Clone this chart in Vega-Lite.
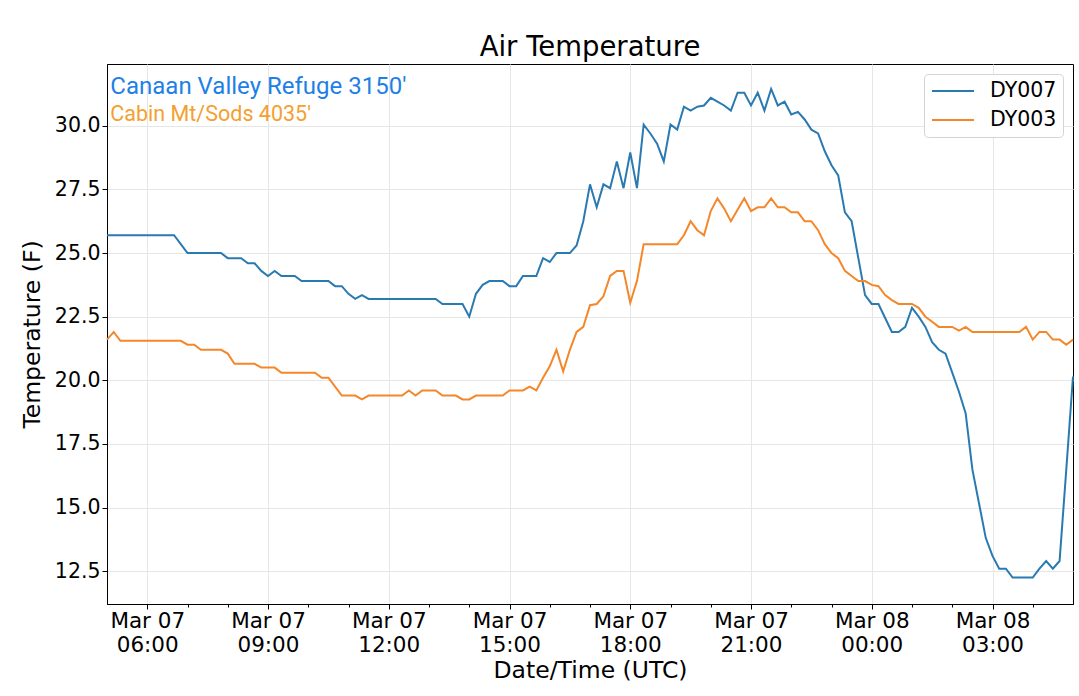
{
  "$schema": "https://vega.github.io/schema/vega-lite/v6.json",
  "description": "Air temperature at DY007 and DY003, 10-minute readings",
  "width": 966,
  "height": 540,
  "autosize": {"type": "none"},
  "padding": {"left": 107, "top": 64, "right": 6, "bottom": 92},
  "background": "white",
  "title": {
    "text": "Air Temperature",
    "font": "DejaVu Sans",
    "fontSize": 27.5,
    "fontWeight": "normal",
    "color": "black",
    "offset": 3
  },
  "datasets": {
    "temps": [
      {"t": "2018-03-07T05:00:00Z", "DY007": 25.7, "DY003": 21.6},
      {"t": "2018-03-07T05:10:00Z", "DY007": 25.7, "DY003": 21.9},
      {"t": "2018-03-07T05:20:00Z", "DY007": 25.7, "DY003": 21.55},
      {"t": "2018-03-07T05:30:00Z", "DY007": 25.7, "DY003": 21.55},
      {"t": "2018-03-07T05:40:00Z", "DY007": 25.7, "DY003": 21.55},
      {"t": "2018-03-07T05:50:00Z", "DY007": 25.7, "DY003": 21.55},
      {"t": "2018-03-07T06:00:00Z", "DY007": 25.7, "DY003": 21.55},
      {"t": "2018-03-07T06:10:00Z", "DY007": 25.7, "DY003": 21.55},
      {"t": "2018-03-07T06:20:00Z", "DY007": 25.7, "DY003": 21.55},
      {"t": "2018-03-07T06:30:00Z", "DY007": 25.7, "DY003": 21.55},
      {"t": "2018-03-07T06:40:00Z", "DY007": 25.7, "DY003": 21.55},
      {"t": "2018-03-07T06:50:00Z", "DY007": 25.35, "DY003": 21.55},
      {"t": "2018-03-07T07:00:00Z", "DY007": 25.0, "DY003": 21.4},
      {"t": "2018-03-07T07:10:00Z", "DY007": 25.0, "DY003": 21.4},
      {"t": "2018-03-07T07:20:00Z", "DY007": 25.0, "DY003": 21.2},
      {"t": "2018-03-07T07:30:00Z", "DY007": 25.0, "DY003": 21.2},
      {"t": "2018-03-07T07:40:00Z", "DY007": 25.0, "DY003": 21.2},
      {"t": "2018-03-07T07:50:00Z", "DY007": 25.0, "DY003": 21.2},
      {"t": "2018-03-07T08:00:00Z", "DY007": 24.8, "DY003": 21.05},
      {"t": "2018-03-07T08:10:00Z", "DY007": 24.8, "DY003": 20.65},
      {"t": "2018-03-07T08:20:00Z", "DY007": 24.8, "DY003": 20.65},
      {"t": "2018-03-07T08:30:00Z", "DY007": 24.6, "DY003": 20.65},
      {"t": "2018-03-07T08:40:00Z", "DY007": 24.6, "DY003": 20.65},
      {"t": "2018-03-07T08:50:00Z", "DY007": 24.3, "DY003": 20.5},
      {"t": "2018-03-07T09:00:00Z", "DY007": 24.1, "DY003": 20.5},
      {"t": "2018-03-07T09:10:00Z", "DY007": 24.3, "DY003": 20.5},
      {"t": "2018-03-07T09:20:00Z", "DY007": 24.1, "DY003": 20.3},
      {"t": "2018-03-07T09:30:00Z", "DY007": 24.1, "DY003": 20.3},
      {"t": "2018-03-07T09:40:00Z", "DY007": 24.1, "DY003": 20.3},
      {"t": "2018-03-07T09:50:00Z", "DY007": 23.9, "DY003": 20.3},
      {"t": "2018-03-07T10:00:00Z", "DY007": 23.9, "DY003": 20.3},
      {"t": "2018-03-07T10:10:00Z", "DY007": 23.9, "DY003": 20.3},
      {"t": "2018-03-07T10:20:00Z", "DY007": 23.9, "DY003": 20.1},
      {"t": "2018-03-07T10:30:00Z", "DY007": 23.9, "DY003": 20.1},
      {"t": "2018-03-07T10:40:00Z", "DY007": 23.7, "DY003": 19.75},
      {"t": "2018-03-07T10:50:00Z", "DY007": 23.7, "DY003": 19.4},
      {"t": "2018-03-07T11:00:00Z", "DY007": 23.4, "DY003": 19.4},
      {"t": "2018-03-07T11:10:00Z", "DY007": 23.2, "DY003": 19.4},
      {"t": "2018-03-07T11:20:00Z", "DY007": 23.35, "DY003": 19.25},
      {"t": "2018-03-07T11:30:00Z", "DY007": 23.2, "DY003": 19.4},
      {"t": "2018-03-07T11:40:00Z", "DY007": 23.2, "DY003": 19.4},
      {"t": "2018-03-07T11:50:00Z", "DY007": 23.2, "DY003": 19.4},
      {"t": "2018-03-07T12:00:00Z", "DY007": 23.2, "DY003": 19.4},
      {"t": "2018-03-07T12:10:00Z", "DY007": 23.2, "DY003": 19.4},
      {"t": "2018-03-07T12:20:00Z", "DY007": 23.2, "DY003": 19.4},
      {"t": "2018-03-07T12:30:00Z", "DY007": 23.2, "DY003": 19.6},
      {"t": "2018-03-07T12:40:00Z", "DY007": 23.2, "DY003": 19.4},
      {"t": "2018-03-07T12:50:00Z", "DY007": 23.2, "DY003": 19.6},
      {"t": "2018-03-07T13:00:00Z", "DY007": 23.2, "DY003": 19.6},
      {"t": "2018-03-07T13:10:00Z", "DY007": 23.2, "DY003": 19.6},
      {"t": "2018-03-07T13:20:00Z", "DY007": 23.0, "DY003": 19.4},
      {"t": "2018-03-07T13:30:00Z", "DY007": 23.0, "DY003": 19.4},
      {"t": "2018-03-07T13:40:00Z", "DY007": 23.0, "DY003": 19.4},
      {"t": "2018-03-07T13:50:00Z", "DY007": 23.0, "DY003": 19.25},
      {"t": "2018-03-07T14:00:00Z", "DY007": 22.5, "DY003": 19.25},
      {"t": "2018-03-07T14:10:00Z", "DY007": 23.4, "DY003": 19.4},
      {"t": "2018-03-07T14:20:00Z", "DY007": 23.75, "DY003": 19.4},
      {"t": "2018-03-07T14:30:00Z", "DY007": 23.9, "DY003": 19.4},
      {"t": "2018-03-07T14:40:00Z", "DY007": 23.9, "DY003": 19.4},
      {"t": "2018-03-07T14:50:00Z", "DY007": 23.9, "DY003": 19.4},
      {"t": "2018-03-07T15:00:00Z", "DY007": 23.7, "DY003": 19.6},
      {"t": "2018-03-07T15:10:00Z", "DY007": 23.7, "DY003": 19.6},
      {"t": "2018-03-07T15:20:00Z", "DY007": 24.1, "DY003": 19.6},
      {"t": "2018-03-07T15:30:00Z", "DY007": 24.1, "DY003": 19.75},
      {"t": "2018-03-07T15:40:00Z", "DY007": 24.1, "DY003": 19.6},
      {"t": "2018-03-07T15:50:00Z", "DY007": 24.8, "DY003": 20.1},
      {"t": "2018-03-07T16:00:00Z", "DY007": 24.65, "DY003": 20.55},
      {"t": "2018-03-07T16:10:00Z", "DY007": 25.0, "DY003": 21.2},
      {"t": "2018-03-07T16:20:00Z", "DY007": 25.0, "DY003": 20.35},
      {"t": "2018-03-07T16:30:00Z", "DY007": 25.0, "DY003": 21.2},
      {"t": "2018-03-07T16:40:00Z", "DY007": 25.3, "DY003": 21.9},
      {"t": "2018-03-07T16:50:00Z", "DY007": 26.25, "DY003": 22.1},
      {"t": "2018-03-07T17:00:00Z", "DY007": 27.7, "DY003": 22.95},
      {"t": "2018-03-07T17:10:00Z", "DY007": 26.8, "DY003": 23.0},
      {"t": "2018-03-07T17:20:00Z", "DY007": 27.7, "DY003": 23.3},
      {"t": "2018-03-07T17:30:00Z", "DY007": 27.55, "DY003": 24.1},
      {"t": "2018-03-07T17:40:00Z", "DY007": 28.6, "DY003": 24.3},
      {"t": "2018-03-07T17:50:00Z", "DY007": 27.55, "DY003": 24.3},
      {"t": "2018-03-07T18:00:00Z", "DY007": 28.95, "DY003": 23.05},
      {"t": "2018-03-07T18:10:00Z", "DY007": 27.55, "DY003": 23.9},
      {"t": "2018-03-07T18:20:00Z", "DY007": 30.05, "DY003": 25.35},
      {"t": "2018-03-07T18:30:00Z", "DY007": 29.7, "DY003": 25.35},
      {"t": "2018-03-07T18:40:00Z", "DY007": 29.3, "DY003": 25.35},
      {"t": "2018-03-07T18:50:00Z", "DY007": 28.6, "DY003": 25.35},
      {"t": "2018-03-07T19:00:00Z", "DY007": 30.05, "DY003": 25.35},
      {"t": "2018-03-07T19:10:00Z", "DY007": 29.85, "DY003": 25.35},
      {"t": "2018-03-07T19:20:00Z", "DY007": 30.75, "DY003": 25.7},
      {"t": "2018-03-07T19:30:00Z", "DY007": 30.6, "DY003": 26.25},
      {"t": "2018-03-07T19:40:00Z", "DY007": 30.75, "DY003": 25.9},
      {"t": "2018-03-07T19:50:00Z", "DY007": 30.8, "DY003": 25.7},
      {"t": "2018-03-07T20:00:00Z", "DY007": 31.1, "DY003": 26.65},
      {"t": "2018-03-07T20:10:00Z", "DY007": 30.95, "DY003": 27.15},
      {"t": "2018-03-07T20:20:00Z", "DY007": 30.8, "DY003": 26.75},
      {"t": "2018-03-07T20:30:00Z", "DY007": 30.6, "DY003": 26.25},
      {"t": "2018-03-07T20:40:00Z", "DY007": 31.3, "DY003": 26.7},
      {"t": "2018-03-07T20:50:00Z", "DY007": 31.3, "DY003": 27.15},
      {"t": "2018-03-07T21:00:00Z", "DY007": 30.8, "DY003": 26.65},
      {"t": "2018-03-07T21:10:00Z", "DY007": 31.3, "DY003": 26.8},
      {"t": "2018-03-07T21:20:00Z", "DY007": 30.6, "DY003": 26.8},
      {"t": "2018-03-07T21:30:00Z", "DY007": 31.45, "DY003": 27.15},
      {"t": "2018-03-07T21:40:00Z", "DY007": 30.8, "DY003": 26.8},
      {"t": "2018-03-07T21:50:00Z", "DY007": 30.95, "DY003": 26.8},
      {"t": "2018-03-07T22:00:00Z", "DY007": 30.45, "DY003": 26.6},
      {"t": "2018-03-07T22:10:00Z", "DY007": 30.55, "DY003": 26.6},
      {"t": "2018-03-07T22:20:00Z", "DY007": 30.25, "DY003": 26.25},
      {"t": "2018-03-07T22:30:00Z", "DY007": 29.85, "DY003": 26.25},
      {"t": "2018-03-07T22:40:00Z", "DY007": 29.7, "DY003": 25.9},
      {"t": "2018-03-07T22:50:00Z", "DY007": 29.0, "DY003": 25.35},
      {"t": "2018-03-07T23:00:00Z", "DY007": 28.45, "DY003": 25.0},
      {"t": "2018-03-07T23:10:00Z", "DY007": 28.05, "DY003": 24.8},
      {"t": "2018-03-07T23:20:00Z", "DY007": 26.6, "DY003": 24.3},
      {"t": "2018-03-07T23:30:00Z", "DY007": 26.25, "DY003": 24.1},
      {"t": "2018-03-07T23:40:00Z", "DY007": 24.8, "DY003": 23.9},
      {"t": "2018-03-07T23:50:00Z", "DY007": 23.35, "DY003": 23.9},
      {"t": "2018-03-08T00:00:00Z", "DY007": 23.0, "DY003": 23.75},
      {"t": "2018-03-08T00:10:00Z", "DY007": 23.0, "DY003": 23.7},
      {"t": "2018-03-08T00:20:00Z", "DY007": 22.45, "DY003": 23.35},
      {"t": "2018-03-08T00:30:00Z", "DY007": 21.9, "DY003": 23.15},
      {"t": "2018-03-08T00:40:00Z", "DY007": 21.9, "DY003": 23.0},
      {"t": "2018-03-08T00:50:00Z", "DY007": 22.1, "DY003": 23.0},
      {"t": "2018-03-08T01:00:00Z", "DY007": 22.85, "DY003": 23.0},
      {"t": "2018-03-08T01:10:00Z", "DY007": 22.5, "DY003": 22.85},
      {"t": "2018-03-08T01:20:00Z", "DY007": 22.1, "DY003": 22.5},
      {"t": "2018-03-08T01:30:00Z", "DY007": 21.5, "DY003": 22.3},
      {"t": "2018-03-08T01:40:00Z", "DY007": 21.2, "DY003": 22.1},
      {"t": "2018-03-08T01:50:00Z", "DY007": 21.05, "DY003": 22.1},
      {"t": "2018-03-08T02:00:00Z", "DY007": 20.3, "DY003": 22.1},
      {"t": "2018-03-08T02:10:00Z", "DY007": 19.55, "DY003": 21.95},
      {"t": "2018-03-08T02:20:00Z", "DY007": 18.7, "DY003": 22.1},
      {"t": "2018-03-08T02:30:00Z", "DY007": 16.5, "DY003": 21.9},
      {"t": "2018-03-08T02:40:00Z", "DY007": 15.15, "DY003": 21.9},
      {"t": "2018-03-08T02:50:00Z", "DY007": 13.8, "DY003": 21.9},
      {"t": "2018-03-08T03:00:00Z", "DY007": 13.1, "DY003": 21.9},
      {"t": "2018-03-08T03:10:00Z", "DY007": 12.6, "DY003": 21.9},
      {"t": "2018-03-08T03:20:00Z", "DY007": 12.6, "DY003": 21.9},
      {"t": "2018-03-08T03:30:00Z", "DY007": 12.25, "DY003": 21.9},
      {"t": "2018-03-08T03:40:00Z", "DY007": 12.25, "DY003": 21.9},
      {"t": "2018-03-08T03:50:00Z", "DY007": 12.25, "DY003": 22.1},
      {"t": "2018-03-08T04:00:00Z", "DY007": 12.25, "DY003": 21.6},
      {"t": "2018-03-08T04:10:00Z", "DY007": 12.6, "DY003": 21.9},
      {"t": "2018-03-08T04:20:00Z", "DY007": 12.9, "DY003": 21.9},
      {"t": "2018-03-08T04:30:00Z", "DY007": 12.6, "DY003": 21.6},
      {"t": "2018-03-08T04:40:00Z", "DY007": 12.9, "DY003": 21.6},
      {"t": "2018-03-08T04:50:00Z", "DY007": 16.5, "DY003": 21.4},
      {"t": "2018-03-08T05:00:00Z", "DY007": 20.15, "DY003": 21.6}
    ],
    "notes": [
      {"t": "2018-03-07T05:05:00Z", "temp": 31.25, "site": "DY007", "label": "Canaan Valley Refuge 3150'"},
      {"t": "2018-03-07T05:05:00Z", "temp": 30.2, "site": "DY003", "label": "Cabin Mt/Sods 4035'"}
    ]
  },
  "encoding": {
    "x": {
      "field": "t",
      "type": "temporal",
      "title": "Date/Time (UTC)",
      "scale": {"type": "utc", "domain": [1520398800000, 1520485200000]},
      "axis": {
        "values": [
          1520402400000, 1520406000000, 1520409600000, 1520413200000, 1520416800000,
          1520420400000, 1520424000000, 1520427600000, 1520431200000, 1520434800000,
          1520438400000, 1520442000000, 1520445600000, 1520449200000, 1520452800000,
          1520456400000, 1520460000000, 1520463600000, 1520467200000, 1520470800000,
          1520474400000, 1520478000000, 1520481600000
        ],
        "labelExpr": "(datum.value - 1520402400000) % 10800000 == 0 ? [utcFormat(datum.value, '%b %d'), utcFormat(datum.value, '%H:%M')] : ''",
        "tickSize": 5,
        "tickDash": {"condition": {"test": "(datum.value - 1520402400000) % 10800000 == 0", "value": [10, 0]}, "value": [3, 10]},
        "gridOpacity": {"condition": {"test": "(datum.value - 1520402400000) % 10800000 == 0", "value": 1}, "value": 0},
        "labelOverlap": false,
        "labelFlush": false,
        "labelFontSize": 21.5,
        "labelLineHeight": 24,
        "labelPadding": 1,
        "titleFontSize": 23.5,
        "titlePadding": 3
      }
    },
    "y": {
      "field": "temp",
      "type": "quantitative",
      "title": "Temperature (F)",
      "scale": {"domain": [11.21, 32.43], "nice": false, "zero": false},
      "axis": {
        "values": [12.5, 15, 17.5, 20, 22.5, 25, 27.5, 30],
        "format": ".1f",
        "tickSize": 5,
        "labelFontSize": 20.5,
        "labelPadding": 2,
        "titleFontSize": 23.5,
        "titlePadding": 10
      }
    }
  },
  "layer": [
    {
      "data": {"name": "temps"},
      "transform": [{"fold": ["DY007", "DY003"], "as": ["station", "temp"]}],
      "mark": {"type": "line", "strokeWidth": 2},
      "encoding": {
        "color": {
          "field": "station",
          "type": "nominal",
          "scale": {"domain": ["DY007", "DY003"], "range": ["#2a7ab2", "#f4872a"]},
          "legend": {
            "title": null,
            "orient": "top-right",
            "offset": 10,
            "symbolType": "M-0.9,0H3.3",
            "symbolSize": 400,
            "symbolStrokeWidth": 2,
            "labelFont": "DejaVu Sans",
            "labelFontSize": 20.5,
            "labelColor": "black",
            "labelOffset": 38,
            "rowPadding": 7,
            "padding": 6,
            "strokeColor": "#d4d4d4",
            "fillColor": "white",
            "cornerRadius": 4
          }
        }
      }
    },
    {
      "data": {"name": "notes"},
      "transform": [{"filter": "datum.site === 'DY007'"}],
      "mark": {"type": "text", "align": "left", "baseline": "alphabetic", "font": "Roboto", "fontSize": 24, "color": "#1e80e6"},
      "encoding": {"text": {"field": "label"}}
    },
    {
      "data": {"name": "notes"},
      "transform": [{"filter": "datum.site === 'DY003'"}],
      "mark": {"type": "text", "align": "left", "baseline": "alphabetic", "font": "Roboto", "fontSize": 21.5, "color": "#f4a030"},
      "encoding": {"text": {"field": "label"}}
    }
  ],
  "config": {
    "view": {"stroke": "black", "strokeWidth": 1},
    "axis": {
      "labelFont": "DejaVu Sans",
      "titleFont": "DejaVu Sans",
      "labelColor": "black",
      "titleColor": "black",
      "titleFontWeight": "normal",
      "tickColor": "black",
      "domainColor": "black",
      "gridColor": "#e6e6e6"
    }
  }
}
